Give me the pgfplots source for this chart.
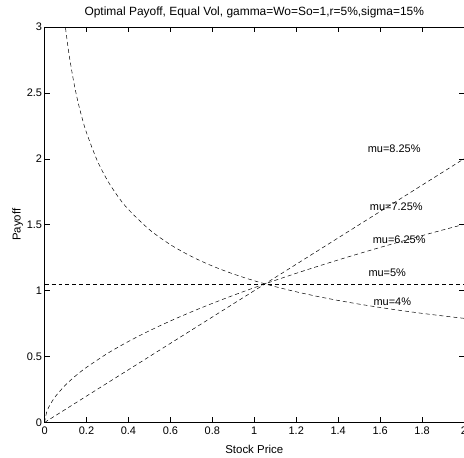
\documentclass[border=0pt]{standalone}
\usepackage{fontspec}
\setmainfont{Liberation Sans}
\usepackage{pgfplots}
\pgfplotsset{compat=1.18}

\begin{document}
\begin{tikzpicture}[trim axis right]
\begin{axis}[
  scale only axis,
  width=421pt, height=397pt,
  xmin=0, xmax=2, ymin=0, ymax=3,
  xtick={0,0.2,...,2.01}, ytick={0,0.5,...,3},
  tick align=inside,
  major tick length=5pt,
  axis line style={line width=0.8pt},
  every tick/.style={black, line width=0.5pt},
  tick label style={font=\fontsize{11}{13}\selectfont},
  label style={font=\fontsize{11.5}{13}\selectfont},
  title style={font=\fontsize{12}{14}\selectfont, yshift=-1pt},
  /pgf/number format/assume math mode=true,
  xticklabel style={yshift=-1pt},
  yticklabel style={xshift=1pt},
  xlabel={Stock Price}, ylabel={Payoff},
  xlabel style={yshift=-4pt},
  ylabel style={yshift=-3pt},
  title={Optimal Payoff, Equal Vol, gamma=Wo=So=1,r=5\%,sigma=15\%},
  clip=true,
]
% mu=7.25%
\addplot[black, line width=0.5pt, dash pattern=on 4pt off 3pt] coordinates {(0,0) (2,2)};
% mu=6.25%
\addplot[black, line width=0.5pt, dash pattern=on 4pt off 3pt, smooth] coordinates {
(0,0) (0.01,0.0791) (0.02,0.1163) (0.05,0.1936) (0.1,0.2845) (0.15,0.3564)
(0.2,0.4181) (0.3,0.5238) (0.4,0.6145) (0.5,0.6957) (0.6,0.7699) (0.7,0.8387)
(0.8,0.9032) (0.9,0.9643) (1.0,1.0225) (1.1,1.0781) (1.2,1.1315) (1.3,1.1829)
(1.4,1.2327) (1.5,1.2808) (1.6,1.3276) (1.7,1.3731) (1.8,1.4174) (1.9,1.4606)
(2.0,1.5028)};
% mu=5%
\addplot[black, line width=0.5pt, dash pattern=on 4pt off 3pt] coordinates {(0,1.0513) (2,1.0513)};
% mu=4%
\addplot[black, line width=0.5pt, dash pattern=on 4pt off 3pt, smooth] coordinates {
(0.1,2.9908) (0.11,2.8667) (0.12,2.7579) (0.14,2.5754) (0.16,2.4270) (0.18,2.3032)
(0.2,2.1979) (0.25,1.9904) (0.3,1.8355) (0.35,1.7139) (0.4,1.6152) (0.5,1.4627)
(0.6,1.3488) (0.7,1.2596) (0.8,1.1869) (0.9,1.1264) (1.0,1.0749) (1.1,1.0303)
(1.2,0.9912) (1.3,0.9566) (1.4,0.9256) (1.5,0.8977) (1.6,0.8723) (1.7,0.8491)
(1.8,0.8278) (1.9,0.8081) (2.0,0.7899)};
\begin{scope}[every node/.style={font=\fontsize{11}{13}\selectfont}]
\node at (axis cs:1.667,2.078) {mu=8.25\%};
\node at (axis cs:1.677,1.64) {mu=7.25\%};
\node at (axis cs:1.691,1.383) {mu=6.25\%};
\node at (axis cs:1.634,1.133) {mu=5\%};
\node at (axis cs:1.658,0.914) {mu=4\%};
\end{scope}
\end{axis}
% white margin left of the y label and above the title, as in the reference
\path (current bounding box.south west) ++(-9pt,0pt);
\path (current bounding box.north west) ++(0pt,4pt);
\end{tikzpicture}
\end{document}
